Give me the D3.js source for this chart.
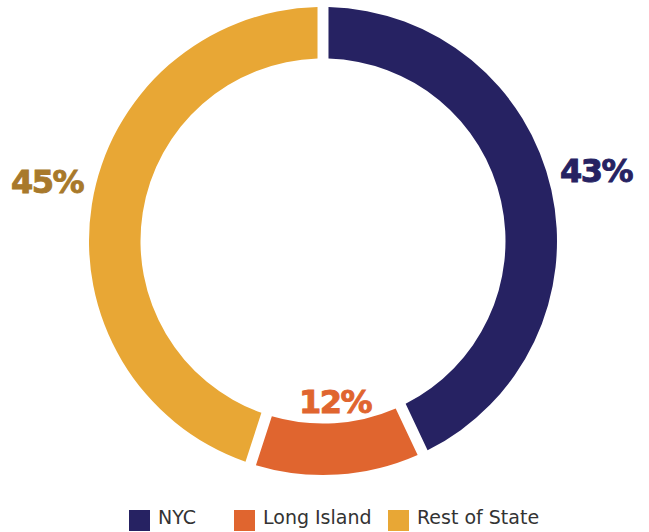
<!DOCTYPE html>
<meta charset="utf-8">
<script src="https://d3js.org/d3.v7.min.js"></script>
<style>
  body { margin: 0; background: #fff; }
</style>
<body>
<div id="my_dataviz"></div>
<script>
  // data
  var regions = ["NYC", "Long Island", "Rest of State"];
  var shares = [43, 12, 45];
  var labels = ["43%", "12%", "45%"];

  var w = 649, h = 532;
  var cx = 323, cy = 241;
  var outerR = 234, innerR = 182.5;

  var colors = ["#262262", "#e0652f", "#e8a735"];
  var labelColors = ["#262262", "#e0652f", "#a8792b"];

  // label anchor spots (around the ring)
  var labelPos = [
    { x: 560, y: 182, anchor: "start" },
    { x: 335, y: 413, anchor: "middle" },
    { x: 83, y: 193, anchor: "end" }
  ];

  var svg = d3.select("#my_dataviz")
    .append("svg")
    .attr("width", w)
    .attr("height", h);

  var pie = d3.pie().sort(null).value(function (d) { return d; });
  var arcs = pie(shares);

  var arc = d3.arc()
    .innerRadius(innerR)
    .outerRadius(outerR)
    .padAngle(0.037);

  var g = svg.append("g")
    .attr("transform", "translate(" + cx + "," + cy + ")");

  g.selectAll("path")
    .data(arcs)
    .enter()
    .append("path")
    .attr("d", arc)
    .attr("fill", function (d, i) { return colors[i]; });

  // percentage labels
  svg.selectAll(".pct")
    .data(labels)
    .enter()
    .append("text")
    .attr("class", "pct")
    .text(function (d) { return d; })
    .attr("x", function (d, i) { return labelPos[i].x; })
    .attr("y", function (d, i) { return labelPos[i].y; })
    .attr("text-anchor", function (d, i) { return labelPos[i].anchor; })
    .attr("font-family", "DejaVu Sans, sans-serif")
    .attr("font-weight", "bold")
    .attr("font-size", "32px")
    .attr("letter-spacing", "-1.5px")
    .attr("stroke-width", 0.9)
    .attr("stroke", function (d, i) { return labelColors[i]; })
    .attr("fill", function (d, i) { return labelColors[i]; });

  // legend
  var legendX = [129, 234, 388];
  var legend = svg.selectAll(".leg")
    .data(regions)
    .enter()
    .append("g")
    .attr("class", "leg")
    .attr("transform", function (d, i) { return "translate(" + legendX[i] + ",510)"; });

  legend.append("rect")
    .attr("width", 21)
    .attr("height", 21)
    .attr("fill", function (d, i) { return colors[i]; });

  legend.append("text")
    .text(function (d) { return d; })
    .attr("x", 29)
    .attr("y", 13.5)
    .attr("font-family", "DejaVu Sans, sans-serif")
    .attr("font-size", "19px")
    .attr("fill", "#333");
</script>
</body>
